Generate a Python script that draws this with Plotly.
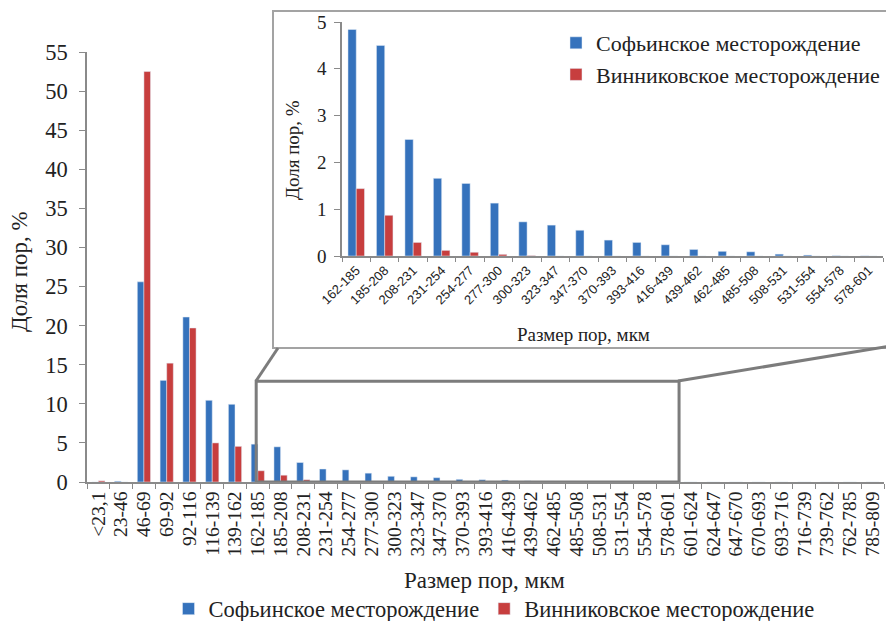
import plotly.graph_objects as go

categories = ["<23,1", "23-46", "46-69", "69-92", "92-116", "116-139", "139-162",
              "162-185", "185-208", "208-231", "231-254", "254-277", "277-300",
              "300-323", "323-347", "347-370", "370-393", "393-416", "416-439",
              "439-462", "462-485", "485-508", "508-531", "531-554", "554-578",
              "578-601", "601-624", "624-647", "647-670", "670-693", "693-716",
              "716-739", "739-762", "762-785", "785-809"]

sofia = [0, 0.1, 25.6, 13.0, 21.1, 10.45, 9.94, 4.84, 4.50, 2.49, 1.66, 1.55,
         1.13, 0.73, 0.66, 0.55, 0.34, 0.29, 0.24, 0.14, 0.10, 0.09, 0.04, 0.02,
         0.006, 0.003, 0, 0, 0, 0, 0, 0, 0, 0, 0]
vinnik = [0.15, 0, 52.5, 15.2, 19.7, 5.0, 4.56, 1.44, 0.87, 0.29, 0.12, 0.08,
          0.035, 0.01, 0, 0, 0, 0, 0, 0, 0, 0, 0, 0, 0, 0, 0, 0, 0, 0, 0, 0, 0, 0, 0]

inset_start, inset_end = 7, 26
inset_cats = categories[inset_start:inset_end]
inset_sofia = sofia[inset_start:inset_end]
inset_vinnik = vinnik[inset_start:inset_end]

name_s = "Софьинское месторождение"
name_v = "Винниковское месторождение"
BLUE = "#3572BC"
RED = "#C73E3E"
SERIF = "Liberation Serif"
AX = "#8a8a8a"
TXT = "#222222"
W, H = 886, 621


def px(x):
    return x / W


def py(y):
    return 1 - y / H


fig = go.Figure()
fig.add_trace(go.Bar(x=categories, y=sofia, name=name_s, marker_color=BLUE,
                     xaxis="x", yaxis="y", legend="legend"))
fig.add_trace(go.Bar(x=categories, y=vinnik, name=name_v, marker_color=RED,
                     xaxis="x", yaxis="y", legend="legend"))
fig.add_trace(go.Bar(x=inset_cats, y=inset_sofia, name=name_s, marker_color=BLUE,
                     xaxis="x2", yaxis="y2", legend="legend2"))
fig.add_trace(go.Bar(x=inset_cats, y=inset_vinnik, name=name_v, marker_color=RED,
                     xaxis="x2", yaxis="y2", legend="legend2"))

shapes = [
    # inset frame
    dict(type="rect", xref="paper", yref="paper", x0=px(273), x1=px(900),
         y0=py(348), y1=py(11), line=dict(color="#a3a3a3", width=2),
         fillcolor="rgba(0,0,0,0)", layer="below"),
    # zoom box on main chart
    dict(type="rect", xref="x", yref="y", x0=6.93, x1=25.5, y0=0, y1=12.9,
         line=dict(color="#7c7c7c", width=3), layer="above"),
    # connectors
    dict(type="line", xref="paper", yref="paper", x0=px(256), y0=py(381),
         x1=px(278), y1=py(348), line=dict(color="#7c7c7c", width=3)),
    dict(type="line", xref="paper", yref="paper", x0=px(678), y0=py(381),
         x1=px(890), y1=py(346), line=dict(color="#7c7c7c", width=3)),
]


def title_ann(text, x, y, size, angle=0):
    return dict(text=text, xref="paper", yref="paper", x=px(x), y=py(y),
                xanchor="center", yanchor="middle", textangle=angle,
                showarrow=False, font=dict(family=SERIF, size=size, color=TXT))


annotations = [
    title_ann("Доля пор, %", 20, 272, 23, -90),
    title_ann("Размер пор, мкм", 485, 580, 23),
    title_ann("Доля пор, %", 293, 150, 19, -90),
    title_ann("Размер пор, мкм", 583, 335, 19),
]

fig.update_layout(
    width=W, height=H,
    margin=dict(l=0, r=0, t=0, b=0, autoexpand=False),
    paper_bgcolor="white", plot_bgcolor="rgba(0,0,0,0)",
    barmode="group", bargap=0.42, bargroupgap=0,
    font=dict(family=SERIF, color=TXT),
    xaxis=dict(domain=[px(87), px(884)], type="category", range=[-0.5, 34.5],
               tickmode="linear", tick0=0, dtick=1,
               tickson="boundaries", ticks="outside", ticklen=5, tickcolor=AX,
               showline=True, linecolor=AX, linewidth=1.5, tickangle=-90,
               tickfont=dict(family=SERIF, size=19.5, color=TXT), automargin=False,
               showgrid=False, zeroline=False, anchor="y", fixedrange=True),
    yaxis=dict(domain=[py(482), py(52)], range=[0, 55], dtick=5,
               ticks="outside", ticklen=6, tickcolor=AX, showline=True,
               linecolor=AX, linewidth=1.5, showgrid=False, zeroline=False,
               automargin=False, ticklabelstandoff=7,
               tickfont=dict(family=SERIF, size=22.5, color=TXT), anchor="x"),
    xaxis2=dict(domain=[px(342), px(883)], type="category", range=[-0.5, 18.5],
                tickmode="linear", tick0=0, dtick=1,
                tickson="boundaries", ticks="outside", ticklen=4, tickcolor=AX,
                showline=True, linecolor=AX, linewidth=1.5, tickangle=-45,
                tickfont=dict(family="Liberation Sans", size=13, color=TXT),
                automargin=False,
                showgrid=False, zeroline=False, anchor="y2"),
    yaxis2=dict(domain=[py(256), py(22)], range=[0, 5], dtick=1,
                ticks="outside", ticklen=6, tickcolor=AX, showline=True,
                linecolor=AX, linewidth=1.5, showgrid=False, zeroline=False,
                automargin=False, ticklabelstandoff=4,
                tickfont=dict(family=SERIF, size=19, color=TXT), anchor="x2"),
    legend=dict(orientation="h", x=px(494), xanchor="center", y=py(609),
                yanchor="middle", font=dict(family=SERIF, size=22.5, color=TXT),
                bgcolor="rgba(0,0,0,0)"),
    legend2=dict(orientation="v", x=px(556), xanchor="left", y=py(22),
                 yanchor="top", font=dict(family=SERIF, size=22, color=TXT),
                 bgcolor="rgba(0,0,0,0)", itemwidth=30),
    shapes=shapes,
    annotations=annotations,
    showlegend=True,
)

fig.write_html(
    "out.html",
    config={"displayModeBar": False},
    post_script="document.body.style.margin='0px';document.body.style.padding='0px';",
)
